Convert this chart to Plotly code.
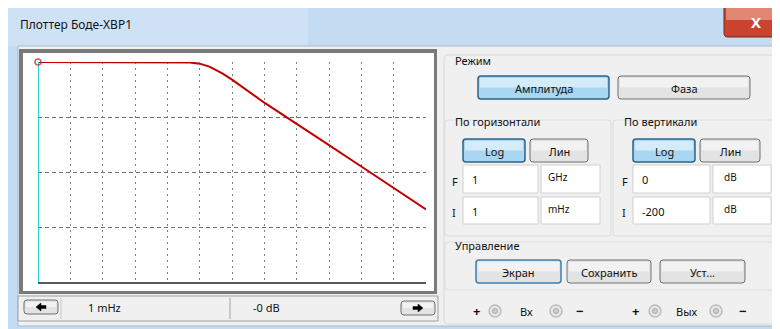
import plotly.graph_objects as go

# --- data ---
freq_hz = [1e-3, 1e-2, 1e-1, 1, 10, 50, 100, 200, 500, 1e3, 1e4, 1e5, 1e6, 1e7, 1e8, 1e9]
gain_db = [0, 0, 0, 0, 0, -0.4, -1.5, -4.2, -10.4, -16, -37, -56, -75.5, -95, -114.5, -134]

cursor_f = 1e-3
cursor_db = 0
f_range = [1e-3, 1e9]      # I = 1 mHz, F = 1 GHz
db_range = [-200, 0]       # I = -200 dB, F = 0 dB

W, H = 780, 329
FONT = "Noto Sans"


def px(x):
    return x / W


def py(y):
    return 1 - y / H


shapes = []
notes = []


def rect(x0, y0, x1, y1, fill, line=None, lw=1, layer="below"):
    shapes.append(dict(type="rect", xref="paper", yref="paper",
                       x0=px(x0), x1=px(x1), y0=py(y1), y1=py(y0),
                       fillcolor=fill, layer=layer,
                       line=dict(color=line or fill, width=lw if line else 0)))


def rrect(x0, y0, x1, y1, fill, line, r=3, lw=1):
    # rounded rectangle as a path in paper coords
    def P(x, y):
        return f"{px(x):.5f},{py(y):.5f}"
    d = (f"M {P(x0 + r, y0)} L {P(x1 - r, y0)} Q {P(x1, y0)} {P(x1, y0 + r)} "
         f"L {P(x1, y1 - r)} Q {P(x1, y1)} {P(x1 - r, y1)} "
         f"L {P(x0 + r, y1)} Q {P(x0, y1)} {P(x0, y1 - r)} "
         f"L {P(x0, y0 + r)} Q {P(x0, y0)} {P(x0 + r, y0)} Z")
    shapes.append(dict(type="path", xref="paper", yref="paper", path=d,
                       fillcolor=fill, line=dict(color=line, width=lw), layer="below"))


def line(x0, y0, x1, y1, color, w=1, layer="below"):
    shapes.append(dict(type="line", xref="paper", yref="paper",
                       x0=px(x0), x1=px(x1), y0=py(y0), y1=py(y1),
                       line=dict(color=color, width=w), layer=layer))


def arrow(cx, cy, direction):
    # small filled arrow glyph for the cursor buttons
    s = direction
    pts = [(cx - 5 * s, cy), (cx, cy - 4), (cx, cy - 1.5), (cx + 5 * s, cy - 1.5),
           (cx + 5 * s, cy + 1.5), (cx, cy + 1.5), (cx, cy + 4)]
    d = "M " + " L ".join(f"{px(x):.5f},{py(y):.5f}" for x, y in pts) + " Z"
    shapes.append(dict(type="path", xref="paper", yref="paper", path=d,
                       fillcolor="#000000", line=dict(color="#000000", width=0.5), layer="below"))


def text(x, y, s, size=11, anchor="left", color="#111111", bold=False):
    notes.append(dict(xref="paper", yref="paper", x=px(x), y=py(y), text=f"<b>{s}</b>" if bold else s,
                      showarrow=False, xanchor=anchor, yanchor="middle",
                      font=dict(family=FONT, size=size, color=color)))


def button(x0, y0, x1, y1, label, active=False, focus=False):
    if active:
        rrect(x0, y0, x1, y1, "#a9d6f2", "#2c628b", r=3, lw=1.5)
        rect(x0 + 2, y0 + 2, x1 - 2, (y0 + y1) / 2, "#d4ecfa")
    else:
        rrect(x0, y0, x1, y1, "#e3e3e3", "#3c7fb1" if focus else "#707070", r=3, lw=1.5 if focus else 1)
        rect(x0 + 2, y0 + 2, x1 - 2, (y0 + y1) / 2, "#f2f2f2")
    if label:
        text((x0 + x1) / 2, (y0 + y1) / 2 + 1, label, anchor="center")


# window frame + title bar
rect(0, 0, W, H, "#c4dbf1")
rect(0, 0, 300, 38, "#cfe2f5")
rect(10, 38, W, 318, "#f0f0f0", line="#a7bccf")
text(10, 17, "Плоттер Боде-XBP1", size=12)
rrect(716, -4, 782, 29, "#c9432f", "#7a2418", r=4)
rect(718, 0, 779, 12, "#e08672")
text(748, 14, "X", size=15, anchor="center", color="white", bold=True)

# sunken plot frame
rect(11, 41, 429, 286, "#7a7a7a")
rect(15, 45, 426, 283, "#ffffff")

# cursor readout bar
rect(10, 288, 430, 313, "#f0f0f0", line="#a0a0a0")
line(53, 290, 53, 311, "#c8c8c8")
line(222, 290, 222, 311, "#a0a0a0")
button(16, 292, 50, 306, "")
arrow(33, 299, 1)
button(393, 293, 427, 307, "")
arrow(410, 300, -1)
text(78, 299, f"{cursor_f * 1000:g} mHz", size=11)
text(243, 299, f"-{abs(cursor_db):g} dB", size=11)

# right-hand control panel
rrect(436, 47, 772, 316, "#f0f0f0", "#d9d9d9", r=4)
text(445, 52, "Режим", size=11)
button(470, 68, 601, 91, "Амплитуда", active=True)
button(610, 68, 742, 91, "Фаза")

rrect(437, 112, 603, 228, "#f0f0f0", "#dcdcdc", r=3)
rrect(605, 112, 771, 228, "#f0f0f0", "#dcdcdc", r=3)
text(445, 113, "По горизонтали", size=11)
text(614, 113, "По вертикали", size=11)
button(455, 131, 517, 154, "Log", active=True)
button(522, 131, 580, 154, "Лин")
button(625, 131, 687, 154, "Log", active=True)
button(692, 131, 752, 154, "Лин")

for (yy0, yy1, lab) in [(157, 185, "F"), (189, 216, "I")]:
    yc = (yy0 + yy1) / 2
    text(442, yc + 2, lab, size=11)
    text(612, yc + 2, lab, size=11)
    for bx0, bx1 in [(455, 530), (533, 592), (625, 702), (705, 763)]:
        rect(bx0, yy0, bx1, yy1, "#ffffff", line="#d0d0d0")

text(462, 171, "1", size=11)
text(538, 169, "GHz", size=10)
text(632, 171, f"{db_range[1]:g}", size=11)
text(714, 169, "dB", size=10)
text(462, 203, "1", size=11)
text(538, 201, "mHz", size=10)
text(632, 203, f"{db_range[0]:g}", size=11)
text(714, 201, "dB", size=10)

rrect(437, 234, 771, 282, "#f0f0f0", "#dcdcdc", r=3)
text(445, 237, "Управление", size=11)
button(468, 252, 553, 275, "Экран", focus=True)
button(559, 252, 643, 275, "Сохранить")
button(652, 252, 737, 275, "Уст...")

# terminals
for cx in [487, 548, 647, 708]:
    shapes.append(dict(type="circle", xref="paper", yref="paper",
                       x0=px(cx - 6), x1=px(cx + 6), y0=py(309), y1=py(297),
                       fillcolor="#e6e6e6", line=dict(color="#bdbdbd", width=1.5), layer="below"))
    shapes.append(dict(type="circle", xref="paper", yref="paper",
                       x0=px(cx - 2.5), x1=px(cx + 2.5), y0=py(305.5), y1=py(300.5),
                       fillcolor="#cfcfcf", line=dict(color="#a8a8a8", width=1), layer="below"))
text(468, 303, "+", size=13, anchor="center", bold=True)
text(518, 303, "Вх", size=11, anchor="center")
text(572, 303, "−", size=13, anchor="center", bold=True)
text(627, 303, "+", size=13, anchor="center", bold=True)
text(678, 303, "Вых", size=11, anchor="center")
text(735, 303, "−", size=13, anchor="center", bold=True)

fig = go.Figure()
fig.add_trace(go.Scatter(x=freq_hz, y=gain_db, mode="lines",
                         line=dict(color="#c00000", width=2), hoverinfo="skip"))
# cursor
fig.add_trace(go.Scatter(x=[cursor_f, cursor_f], y=db_range, mode="lines",
                         line=dict(color="#2ad4dc", width=2), hoverinfo="skip"))
fig.add_trace(go.Scatter(x=[cursor_f, cursor_f], y=[cursor_db, cursor_db + 4.5], mode="markers",
                         marker=dict(symbol=["circle-open", "triangle-down-open"], size=[6, 6],
                                     color="#d01010", line=dict(width=1.5)),
                         cliponaxis=False, hoverinfo="skip"))

fig.update_layout(
    width=W, height=H, margin=dict(l=0, r=0, t=0, b=0),
    paper_bgcolor="#f0f0f0", plot_bgcolor="#ffffff",
    showlegend=False, shapes=shapes, annotations=notes,
    font=dict(family=FONT),
    xaxis=dict(type="log", range=[-3, 9], domain=[px(30), px(418)], dtick=1,
               showgrid=True, gridcolor="#808080", gridwidth=1, griddash="2px,4px",
               showticklabels=False, ticks="", zeroline=False,
               showline=True, linecolor="#5a5a5a", linewidth=2, fixedrange=True),
    yaxis=dict(range=db_range, domain=[py(274), py(54)], dtick=50,
               showgrid=True, gridcolor="#707070", gridwidth=1, griddash="4px,3px",
               showticklabels=False, ticks="", zeroline=False, showline=False, fixedrange=True),
)

fig.write_html("out.html")
